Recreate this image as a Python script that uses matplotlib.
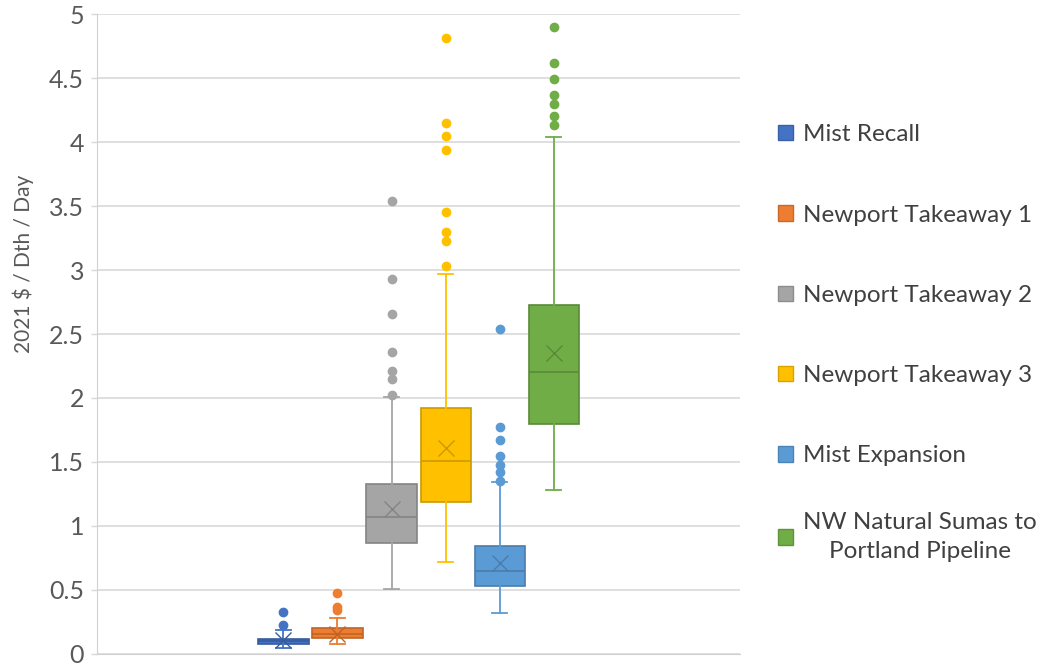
import matplotlib
matplotlib.use("Agg")
import matplotlib.pyplot as plt
from matplotlib.patches import Patch
import matplotlib.colors as mcolors

# series and box statistics (2021 $ / Dth / Day)
names = ["Mist Recall", "Newport Takeaway 1", "Newport Takeaway 2",
         "Newport Takeaway 3", "Mist Expansion", "NW Natural Sumas to\nPortland Pipeline"]
colors = ["#4472C4", "#ED7D31", "#A5A5A5", "#FFC000", "#5B9BD5", "#70AD47"]

whislo = [0.05, 0.08, 0.51, 0.72, 0.32, 1.28]
q1 = [0.08, 0.125, 0.87, 1.19, 0.53, 1.80]
med = [0.10, 0.16, 1.07, 1.51, 0.65, 2.20]
q3 = [0.12, 0.20, 1.33, 1.92, 0.84, 2.73]
whishi = [0.19, 0.28, 2.01, 2.97, 1.34, 4.04]
means = [0.11, 0.16, 1.13, 1.61, 0.71, 2.35]
fliers = [
    [0.23, 0.33],
    [0.34, 0.37, 0.48],
    [2.02, 2.15, 2.21, 2.36, 2.66, 2.93, 3.54],
    [3.03, 3.23, 3.30, 3.45, 3.94, 4.05, 4.15, 4.81],
    [1.35, 1.42, 1.48, 1.55, 1.67, 1.77, 2.54],
    [4.13, 4.20, 4.30, 4.37, 4.49, 4.62, 4.90],
]


def darker(c, f=0.8):
    r, g, b = mcolors.to_rgb(c)
    return (r * f, g * f, b * f)


plt.rcParams['font.family'] = ['Lato', 'DejaVu Sans']
fig = plt.figure(figsize=(10.4, 6.67), dpi=100)
ax = fig.add_axes([0.093, 0.0195, 0.619, 0.9595])

step = 0.084
width = 0.078
for i in range(len(names)):
    pos = (i - 2.5) * step
    st = [dict(whislo=whislo[i], q1=q1[i], med=med[i], q3=q3[i], whishi=whishi[i],
               mean=means[i], fliers=fliers[i])]
    c = colors[i]
    d = darker(c)
    ax.bxp(st, positions=[pos], widths=width, capwidths=width * 0.3,
           showmeans=True, patch_artist=True, manage_ticks=False,
           boxprops=dict(facecolor=c, edgecolor=d, linewidth=1.2),
           medianprops=dict(color=d, linewidth=1.2),
           whiskerprops=dict(color=c, linewidth=1.3),
           capprops=dict(color=c, linewidth=1.3),
           meanprops=dict(marker='x', markeredgecolor=d, markersize=11, markeredgewidth=1.0),
           flierprops=dict(marker='o', markerfacecolor=c, markeredgecolor=c, markersize=6))

ax.set_xlim(-0.5, 0.5)
ax.set_ylim(0, 5)
ax.set_yticks([0, 0.5, 1, 1.5, 2, 2.5, 3, 3.5, 4, 4.5, 5])
ax.set_yticklabels(["0", "0.5", "1", "1.5", "2", "2.5", "3", "3.5", "4", "4.5", "5"])
ax.set_xticks([])
ax.tick_params(axis='y', labelsize=18, colors='#595959', length=4, width=1, pad=5)
ax.tick_params(axis='y', color='#D9D9D9')
ax.grid(axis='y', color='#D9D9D9', linewidth=1.2)
ax.set_axisbelow(True)
for s in ['top', 'right']:
    ax.spines[s].set_visible(False)
ax.spines['left'].set_color('#D0D0D0')
ax.spines['bottom'].set_color('#D0D0D0')
ax.set_ylabel("2021 $ / Dth / Day", fontsize=15, color='#595959')
ax.yaxis.set_label_coords(-0.098, 0.61)

handles = [Patch(facecolor=c, edgecolor=darker(c, 0.85)) for c in colors]
legkw = dict(frameon=False, fontsize=17.5, labelcolor='#404040',
             handlelength=0.6, handleheight=0.6, handletextpad=0.4)
leg1 = ax.legend(handles[:5], names[:5], loc='upper left', bbox_to_anchor=(1.025, 0.862),
                 labelspacing=2.44, **legkw)
ax.add_artist(leg1)
leg2 = ax.legend(handles[5:], names[5:], loc='center left', bbox_to_anchor=(1.025, 0.183),
                 **legkw)
for t in leg2.get_texts():
    t.set_multialignment('center')
    t.set_linespacing(1.5)

fig.savefig("out.png", dpi=100)
